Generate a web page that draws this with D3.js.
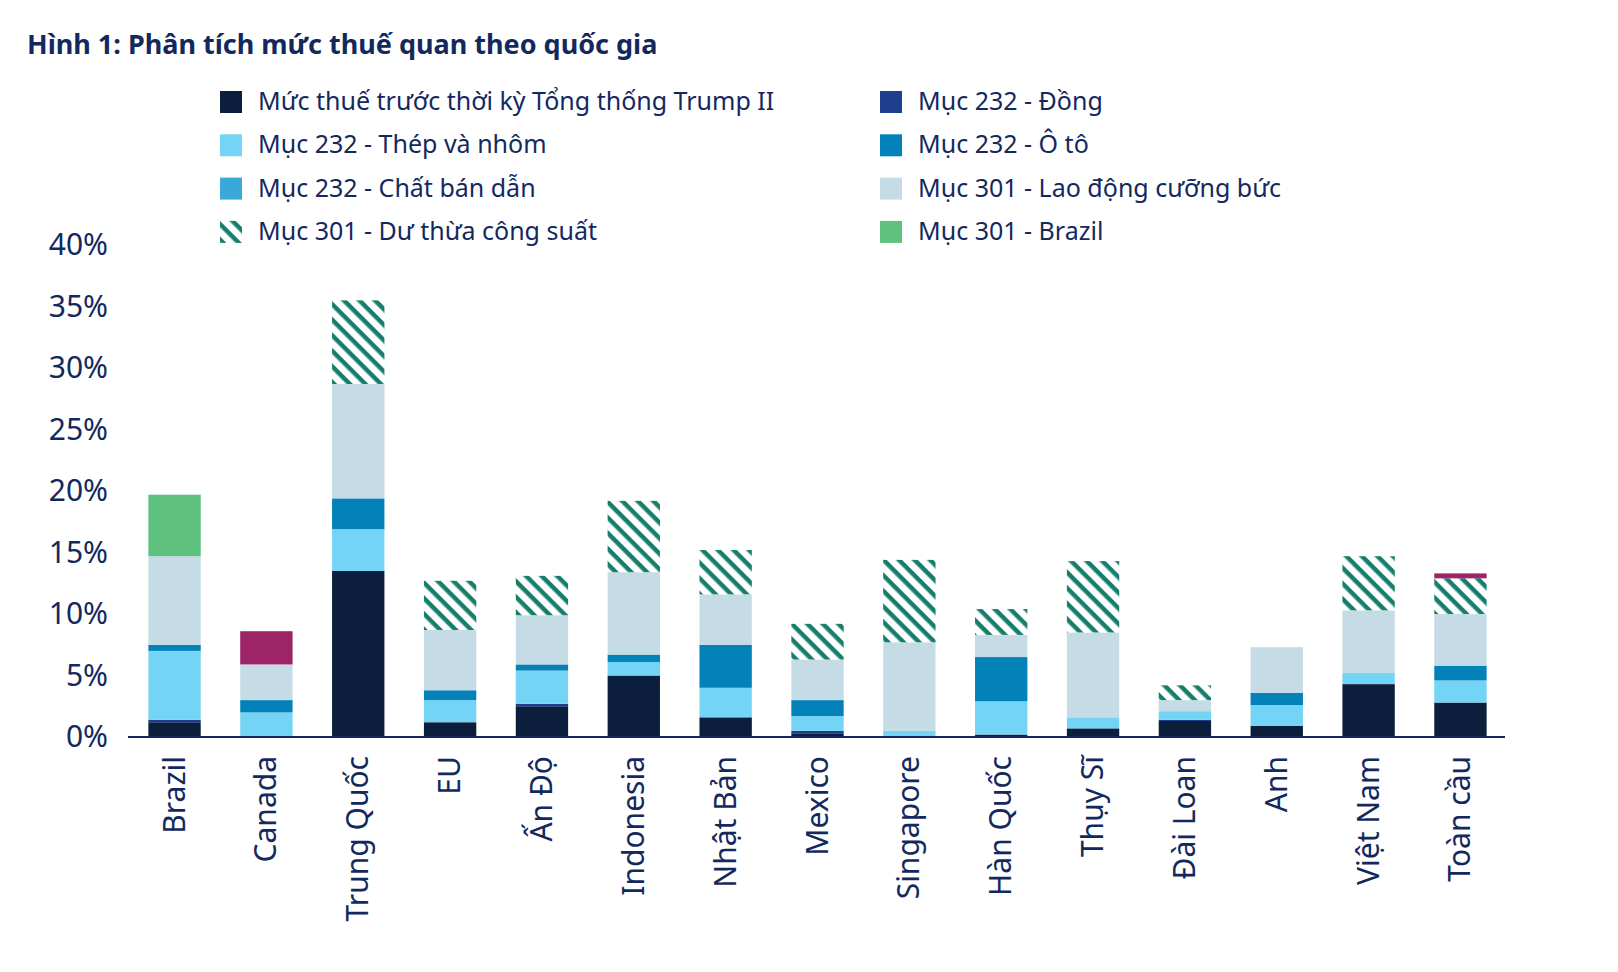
<!DOCTYPE html>
<html><head><meta charset="utf-8">
<script src="https://cdn.jsdelivr.net/npm/d3@7"></script>
<style>body{margin:0;background:#fff;font-family:"Noto Sans",sans-serif}</style>
</head><body><svg id="c" width="1618" height="972"></svg>
<script>
const countries = ["Brazil","Canada","Trung Quốc","EU","Ấn Độ","Indonesia","Nhật Bản","Mexico","Singapore","Hàn Quốc","Thụy Sĩ","Đài Loan","Anh","Việt Nam","Toàn cầu"];
const seriesNames = ["Mức thuế trước thời kỳ Tổng thống Trump II","Mục 232 - Đồng","Mục 232 - Thép và nhôm","Mục 232 - Ô tô","Mục 232 - Chất bán dẫn","Mục 301 - Lao động cưỡng bức","Mục 301 - Dư thừa công suất","Mục 301 - Brazil","Khác"];
const preTrump   = [1.2,0,13.5,1.2,2.5,5.0,1.6,0.3,0,0.2,0.7,1.3,0.9,4.3,2.8];
const copper     = [0.2,0,0,0,0.2,0,0,0.2,0,0,0,0.1,0,0,0];
const steel      = [5.6,2.0,3.4,1.8,2.7,1.1,2.4,1.2,0.5,2.7,0.9,0.7,1.7,0.9,1.8];
const autos      = [0.5,1.0,2.5,0.8,0.5,0.6,3.5,1.3,0,3.6,0,0,1.0,0,1.2];
const semis      = [0,0,0,0,0,0,0,0,0,0,0,0,0,0,0];
const forcedLab  = [7.2,2.9,9.3,4.9,4.0,6.7,4.1,3.3,7.2,1.8,6.9,0.9,3.7,5.1,4.2];
const overcap    = [0,0,6.8,4.0,3.2,5.8,3.6,2.9,6.7,2.1,5.8,1.2,0,4.4,2.9];
const brazil301  = [5.0,0,0,0,0,0,0,0,0,0,0,0,0,0,0];
const other      = [0,2.7,0,0,0,0,0,0,0,0,0,0,0,0,0.4];
const yTicks = [0,5,10,15,20,25,30,35,40];

const seriesVals = [preTrump,copper,steel,autos,semis,forcedLab,overcap,brazil301,other];
const colors = ["#0b1e3b","#1d3f8e","#74d4f6","#0382b9","#3aa8d8","#c5dce6","url(#hatch)","#5ec17d","#9c2467"];
const navy = "#13295e";

const svg = d3.select("#c");
const defs = svg.append("defs");
const pat = defs.append("pattern").attr("id","hatch").attr("patternUnits","userSpaceOnUse")
  .attr("width",11).attr("height",11).attr("patternTransform","rotate(45)");
pat.append("rect").attr("width",11).attr("height",11).attr("fill","#fff");
pat.append("rect").attr("width",11).attr("height",4.5).attr("fill","#177e6b");

svg.append("text").attr("x",27).attr("y",54).attr("font-size",27).attr("font-weight","bold")
  .attr("fill",navy).text("Hình 1: Phân tích mức thuế quan theo quốc gia");

const x = d3.scaleBand().domain(countries).range([130,1505]).paddingInner(0.43).paddingOuter(0.2);
const y = d3.scaleLinear().domain([0,40]).range([737,245]);

const rows = countries.map((c,i)=>{const o={c}; seriesVals.forEach((s,k)=>o[k]=s[i]); return o;});
const stacked = d3.stack().keys(d3.range(seriesVals.length))(rows);

svg.append("g").selectAll("g").data(stacked).join("g").attr("fill",(d,i)=>colors[i])
  .selectAll("rect").data(d=>d).join("rect")
  .attr("x",d=>x(d.data.c)).attr("width",x.bandwidth())
  .attr("y",d=>y(d[1])).attr("height",d=>Math.max(0,y(d[0])-y(d[1])));

const ya = svg.append("g").attr("transform","translate(128,0)")
  .call(d3.axisLeft(y).tickValues(yTicks).tickFormat(d=>d+"%").tickSize(0).tickPadding(20));
ya.select(".domain").remove();
ya.selectAll("text").attr("font-size",30).attr("fill",navy).attr("font-family","Noto Sans");

svg.append("line").attr("x1",128).attr("x2",1505).attr("y1",y(0)).attr("y2",y(0))
  .attr("stroke",navy).attr("stroke-width",2);

svg.append("g").selectAll("text").data(countries).join("text")
  .attr("transform",d=>`translate(${x(d)+x.bandwidth()/2+10},756) rotate(-90)`)
  .attr("text-anchor","end").attr("font-size",30).attr("fill",navy).text(d=>d);

const legItems = [0,1,2,3,4,5,6,7];
const leg = svg.append("g").selectAll("g").data(legItems).join("g")
  .attr("transform",(d,i)=>`translate(${i%2?880:220},${91+Math.floor(i/2)*43.3})`);
leg.append("rect").attr("width",22).attr("height",22).attr("fill",d=>colors[d]);
leg.append("text").attr("x",38).attr("y",19).attr("font-size",25).attr("fill",navy)
  .text(d=>seriesNames[d]);
</script></body></html>
